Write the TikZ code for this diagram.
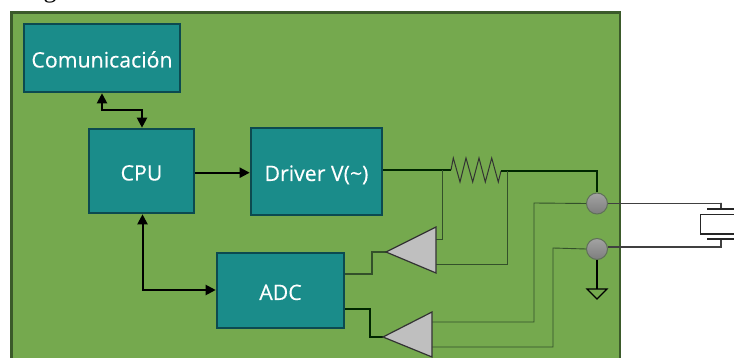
\documentclass[tikz,border=0pt]{standalone}
\usepackage{fontspec}
\setmainfont{Open Sans}
\newfontfamily\boxfont{Open Sans}[FakeBold=0.3]
\newfontfamily\capfont{Liberation Serif}
\usetikzlibrary{arrows.meta,calc}
\definecolor{panelfill}{HTML}{75A94E}
\definecolor{paneledge}{HTML}{3B5A2A}
\definecolor{boxfill}{HTML}{1A8C8A}
\definecolor{boxedge}{HTML}{0C4A50}
\definecolor{ampfill}{HTML}{BFBFBF}
\definecolor{thinwire}{HTML}{33502A}
\definecolor{padfill}{HTML}{939393}
\definecolor{padedge}{HTML}{5F7058}
\tikzset{
  block/.style={draw=boxedge,fill=boxfill,line width=2.6pt,inner sep=0pt,text=white,font=\boxfont\fontsize{21.3}{24}\selectfont,text height=19pt,text depth=0pt,anchor=center},
  link/.style={draw=black,line width=2pt,arrows={-{Triangle[length=10pt,width=10pt]}}},
  duplex/.style={draw=black,line width=2pt,arrows={{Triangle[length=10pt,width=10pt]}-{Triangle[length=10pt,width=10pt]}}},
  wire/.style={draw=black!85!green,line width=1.1pt},
  sense/.style={draw=thinwire,line width=.9pt},
  amp/.style={draw=black!80,fill=ampfill,line width=1.2pt,line join=miter},
  pad/.style={circle,draw=padedge,line width=1pt,inner sep=0pt,minimum size=21pt,top color=padfill!85!white,bottom color=padfill!85!black},
  lead/.style={draw=black!75,line width=1.2pt},
  plate/.style={draw=black!85,line width=1.6pt},
}
\begin{document}
\begin{tikzpicture}[x=1pt,y=-1pt]
\useasboundingbox (0,0) rectangle (734,358);
\begin{scope}
\clip (0,0) rectangle (734,358);
\fill[white] (0,0) rectangle (734,358);
\node[anchor=base,inner sep=0pt,font=\capfont\fontsize{26}{28}\selectfont] (cap) at (50,-2.5) {g};
\draw[draw=paneledge,fill=panelfill,line width=2.4pt] (11.5,12.5) rectangle (620,375);

\node[block,minimum width=156pt,minimum height=68pt] (com) at (102,58) {Comunicación};
\node[block,minimum width=105pt,minimum height=84pt] (cpu) at (141.5,171) {CPU};
\node[block,minimum width=131pt,minimum height=87pt] (drv) at (316.5,171.5) {Driver V(\string~)};
\node[block,minimum width=127pt,minimum height=75pt] (adc) at (280.5,290.5) {ADC};

\node[pad] (p1) at (597,203.5) {};
\node[pad] (p2) at (597,249) {};

% arrows
\coordinate (c1) at (102,110);
\coordinate (c2) at (142,110);
\draw[duplex] (c1 |- com.south) -- (c1) -- (c2) -- (c2 |- cpu.north);
\coordinate (c3) at (194,172.7);
\draw[link] (cpu.east |- c3) -- (drv.west |- c3);
\coordinate (c4) at (142.5,290);
\draw[duplex] (c4 |- cpu.south) -- (c4) -- (c4 -| adc.west);

% amplifiers
\coordinate (a1tip) at (386,252);
\coordinate (a1top) at (436,227);
\coordinate (a1bot) at (436,273);
\coordinate (a2tip) at (383,337);
\coordinate (a2top) at (432,312);
\coordinate (a2bot) at (432,357);

% resistor and wires
\coordinate (r1) at (451,170);
\coordinate (r2) at (501,171);
\coordinate (t1) at (442,170);
\coordinate (t2) at (507,171);
\draw[wire] (drv.east |- r1) -- (r1);
\draw[draw=black!80,line width=1pt,line join=miter] (r1) -- (453.3,158) -- (460,182) -- (466,158) -- (472.7,182) -- (479,158) -- (485.3,182) -- (491.7,158) -- (498.3,182) -- (r2);
\draw[wire] (r2) -| (p1.north);
\draw[sense] (t1) -- (442,239) -- (436,239);
\draw[sense] (t2) -- (507,264) -- (436,264);
\draw[sense] (432,322) -- (534,322) -- (534,203) -- (p1.west);
\draw[sense] (432,347) -- (553,347) -- (553,248) -- (p2.west);

% ADC outputs
\coordinate (o1) at (372,252);
\coordinate (o2) at (372,274);
\draw[wire,draw=thinwire] (adc.east |- o2) -- (o2) -- (o1) -- (a1tip);
\coordinate (o3) at (370,309);
\coordinate (o4) at (370,337);
\draw[wire] (adc.east |- o3) -- (o3) -- (o4) -- (a2tip);

\draw[amp] (a1tip) -- (a1top) -- (a1bot) -- cycle;
\draw[amp] (a2tip) -- (a2top) -- (a2bot) -- cycle;

% ground
\coordinate (g1) at (597,289);
\draw[wire,draw=black] (p2.south) -- (g1);
\draw[draw=black,line width=1.1pt,line join=miter] (587,289) -- (607,289) -- (597,299) -- cycle;

% crystal
\coordinate (x1) at (721,203);
\coordinate (x2) at (721,247);
\draw[lead] (p1.east) -- (p1.east -| x1) -- (x1) -- (721,209);
\draw[lead] (p2.east |- x2) -- (x2) -- (721,239);
\draw[plate] (707,209) -- (740,209);
\draw[plate] (707,239) -- (740,239);
\draw[draw=black!85,line width=1.8pt] (740,214.5) -- (700.5,214.5) -- (700.5,234) -- (740,234);
\end{scope}
\end{tikzpicture}
\end{document}
